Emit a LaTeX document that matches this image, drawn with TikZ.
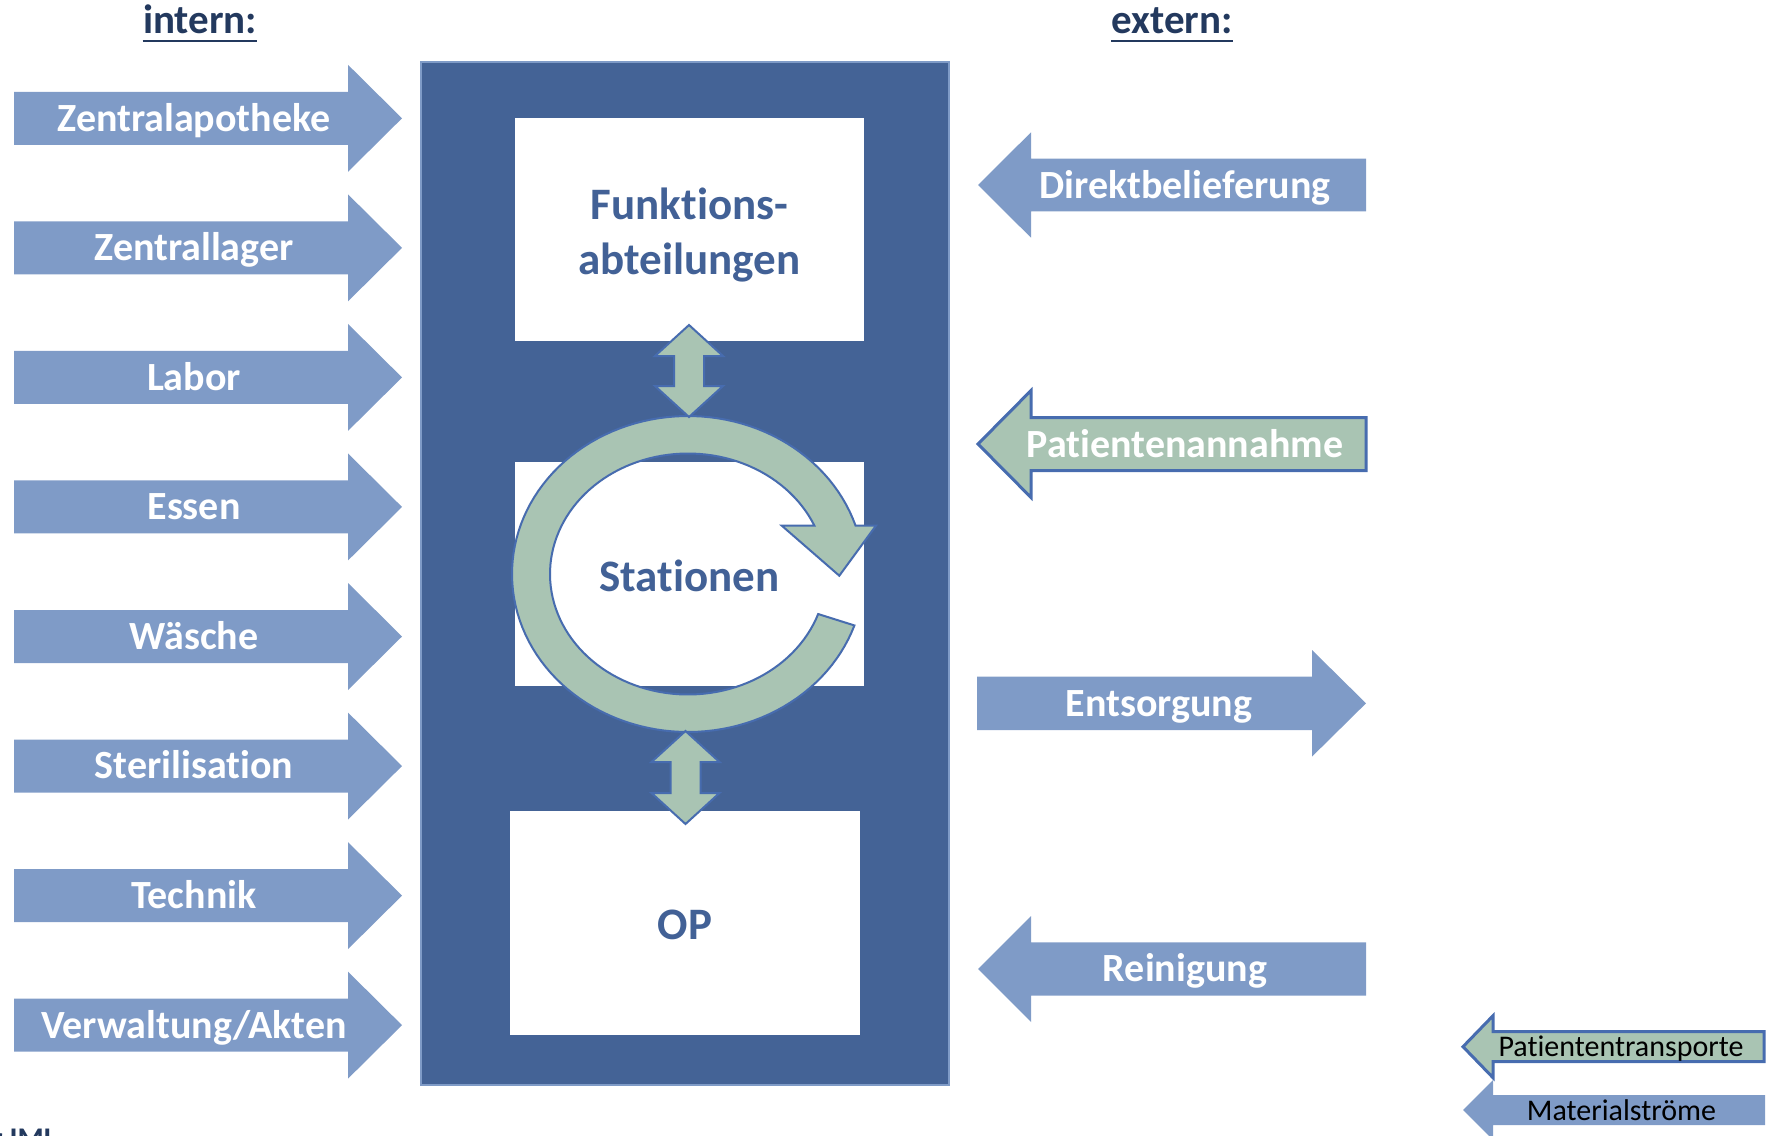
\documentclass[tikz,border=0pt]{standalone}
\usepackage{fontspec}
\setmainfont{Carlito}[Ligatures=NoCommon]
\definecolor{matblue}{RGB}{127,155,199}
\definecolor{darkrect}{RGB}{68,99,150}
\definecolor{sage}{RGB}{169,196,179}
\definecolor{edgeblue}{RGB}{71,108,175}
\definecolor{headdark}{RGB}{35,57,94}
\definecolor{boxtext}{RGB}{66,97,150}
\newcommand{\rightblock}[7]{% style, x left, x head base, x tip, y centre, body half, head half
  \path[#1] (#2,#5-#6) -- (#3,#5-#6) -- (#3,#5-#7) -- (#4,#5) -- (#3,#5+#7) -- (#3,#5+#6) -- (#2,#5+#6) -- cycle;}
\newcommand{\leftblock}[7]{% style, x tip, x head base, x right, y centre, body half, head half
  \path[#1] (#2,#5) -- (#3,#5-#7) -- (#3,#5-#6) -- (#4,#5-#6) -- (#4,#5+#6) -- (#3,#5+#6) -- (#3,#5+#7) -- cycle;}
\newcommand{\vdouble}[3]{% x centre, y top tip, y bottom tip
  \path[dblarrow] (#1,#2) -- (#1+34,#2+31) -- (#1+15,#2+31) -- (#1+15,#3-31) -- (#1+34,#3-31) -- (#1,#3)
    -- (#1-34,#3-31) -- (#1-15,#3-31) -- (#1-15,#2+31) -- (#1-34,#2+31) -- cycle;}
\tikzset{
  matarrow/.style={fill=matblue},
  patarrow/.style={fill=sage, draw=edgeblue, line width=1.5pt, line join=miter},
  dblarrow/.style={fill=sage, draw=edgeblue, line width=1pt, line join=miter},
  ringstyle/.style={fill=sage, draw=edgeblue, line width=1pt, line join=miter},
  whitebox/.style={fill=white, inner sep=0pt},
  boxlbl/.style={text=boxtext, align=center, inner sep=0pt,
    font=\bfseries\fontsize{22.5}{27.5}\selectfont},
  lbl/.style={text=white, anchor=base, inner sep=0pt, font=\bfseries\fontsize{20}{24}\selectfont},
  legendlbl/.style={text=black, anchor=base, inner sep=0pt, font=\fontsize{15}{18}\selectfont},
  heading/.style={text=headdark, anchor=base, inner sep=0pt, font=\bfseries\fontsize{20.5}{24}\selectfont},
}
\begin{document}
\begin{tikzpicture}[x=0.5pt,y=-0.5pt]
\useasboundingbox (0,0) rectangle (1776,1135);
\clip (0,0) rectangle (1776,1135);

% headings
\node[heading] (intern) at (200,33) {intern:};
\draw[headdark, line width=1pt] ([yshift=-3.9pt]intern.base west) -- ([yshift=-3.9pt]intern.base east);
\node[heading] (extern) at (1172,33) {extern:};
\draw[headdark, line width=1pt] ([yshift=-3.9pt]extern.base west) -- ([yshift=-3.9pt]extern.base east);

% central frame
\node[fill=darkrect, draw=matblue, line width=0.6pt, minimum width=264pt, minimum height=511.5pt, inner sep=0pt] (frame) at (685,573.5) {};
\node[whitebox, minimum width=174.5pt, minimum height=111.5pt] (funk) at (689.5,229.5) {};
\node[boxlbl] (funklbl) at (689.5,235) {Funktions-\\abteilungen};
\node[whitebox, minimum width=174.5pt, minimum height=112pt] (stat) at (689.5,574) {};
\node[whitebox, minimum width=175pt, minimum height=112pt] (op) at (685,923) {};
\node[boxlbl] (oplbl) at (685,925) {OP};

% circular arrow
\path[ringstyle] plot[domain=19:342.2,samples=120] ({688+176*cos(\x)},{574+158*sin(\x)})
  -- (876,525.6) -- (839.3,575.7) -- (781.7,525.6)
  -- plot[domain=-336.3:-19.4,samples=120] ({688+138*cos(-\x)},{574+120.5*sin(-\x)}) -- cycle;
\node[boxlbl] (statlbl) at (689.5,575.5) {Stationen};

% double arrows
\vdouble{689}{325}{417}
\vdouble{685.5}{731}{824}

% internal arrows
\foreach \t [count=\i from 0] in {Zentralapotheke,Zentrallager,Labor,Essen,W\"asche,Sterilisation,Technik,Verwaltung/Akten}{
  \pgfmathsetmacro\yc{118.3+129.55*\i}
  \rightblock{matarrow}{14}{348}{402}{\yc}{26.5}{53.5}
  \node[lbl] (in\i) at (194,\yc+12.9) {\t};
}

% external arrows
\leftblock{matarrow}{978}{1031}{1366}{185}{26.3}{52.7}
\node[lbl] (direkt) at (1185,198.3) {Direktbelieferung};
\leftblock{patarrow}{978}{1031}{1366}{444}{26.5}{53.5}
\node[lbl] (patan) at (1185,457.7) {Patientenannahme};
\rightblock{matarrow}{977}{1312}{1366}{703.3}{26.7}{53.3}
\node[lbl] (entsorg) at (1159,716) {Entsorgung};
\leftblock{matarrow}{978}{1031}{1366}{969}{26.7}{53}
\node[lbl] (rein) at (1185,981.7) {Reinigung};

% legend
\leftblock{patarrow}{1463}{1493}{1764}{1046.7}{15}{31}
\node[legendlbl] (legpat) at (1621,1056.7) {Patiententransporte};
\leftblock{matarrow}{1463}{1493}{1765}{1110}{15}{30}
\node[legendlbl] (legmat) at (1621.5,1120) {Materialstr\"ome};

% cut-off source note (cut off at the lower edge, as in the reference)
\node[text=headdark, anchor=base east, inner sep=0pt, font=\bfseries\fontsize{15}{18}\selectfont] (src) at (57,1148) {r IML};
\end{tikzpicture}
\end{document}
